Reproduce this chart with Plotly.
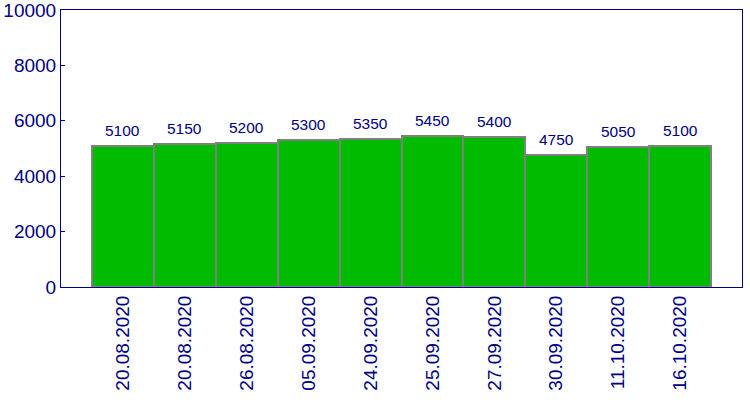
import plotly.graph_objects as go

dates = ["20.08.2020", "20.08.2020", "26.08.2020", "05.09.2020", "24.09.2020",
         "25.09.2020", "27.09.2020", "30.09.2020", "11.10.2020", "16.10.2020"]
values = [5100, 5150, 5200, 5300, 5350, 5450, 5400, 4750, 5050, 5100]
y_ticks = [0, 2000, 4000, 6000, 8000, 10000]

navy = "#000080"
font_family = "Arial, Liberation Sans, sans-serif"
xpos = list(range(len(dates)))

fig = go.Figure()
fig.add_trace(go.Bar(
    x=xpos, y=values,
    marker=dict(color="#00BB00", line=dict(color="#808080", width=2)),
    width=1.0,
))

for xi, v in zip(xpos, values):
    fig.add_annotation(x=xi, y=v, text=str(v), showarrow=False,
                       yanchor="bottom", yshift=5,
                       font=dict(family=font_family, size=15.5, color=navy))

fig.update_layout(
    width=750, height=400,
    margin=dict(l=61, r=8, t=10, b=113, autoexpand=False),
    plot_bgcolor="white", paper_bgcolor="white",
    showlegend=False, bargap=0,
    font=dict(family=font_family, color=navy),
)
fig.update_xaxes(
    range=[-1, 10], tickmode="array", tickvals=xpos, ticktext=dates,
    tickangle=-90, tickfont=dict(size=19, color=navy), automargin=False,
    showline=True, linecolor=navy, linewidth=1, mirror=True,
    showgrid=False, zeroline=False, ticks="",
)
fig.update_yaxes(
    range=[0, 10000], tickmode="array", tickvals=y_ticks,
    ticktext=[str(t) for t in y_ticks], automargin=False,
    ticklabeloverflow="allow",
    tickfont=dict(size=19, color=navy),
    showline=True, linecolor=navy, linewidth=1, mirror=True,
    showgrid=False, zeroline=False, ticks="inside", ticklen=4, tickcolor=navy,
)

fig.write_html("out.html")
